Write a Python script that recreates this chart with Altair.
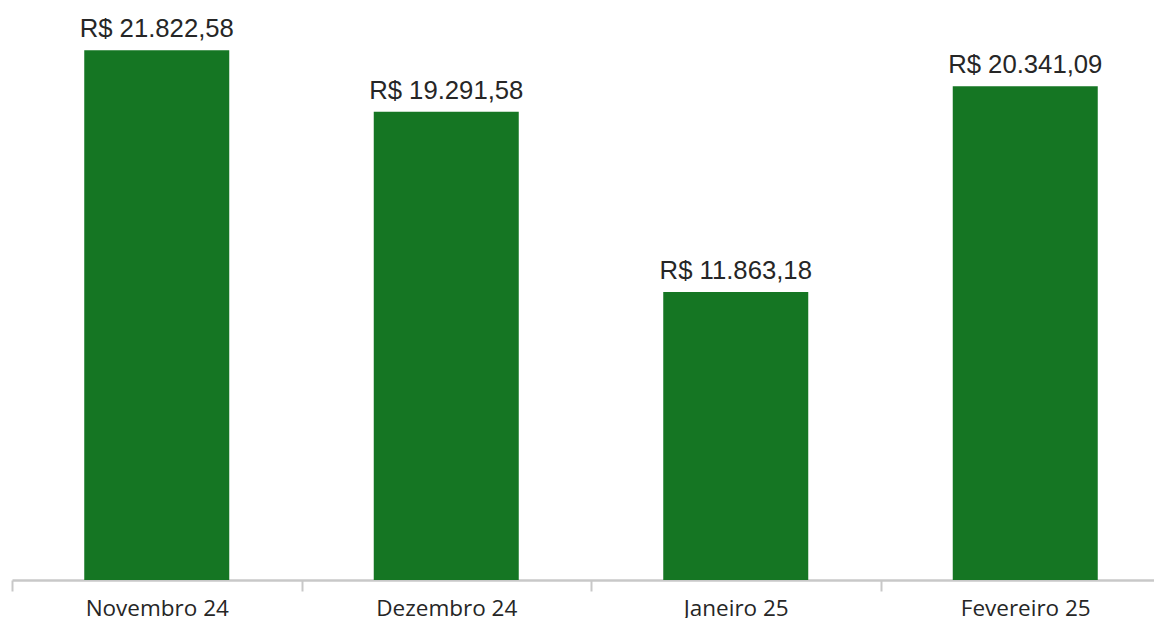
import json
import altair as alt
import pandas as pd

months = ["Novembro 24", "Dezembro 24", "Janeiro 25", "Fevereiro 25"]
values = [21822.58, 19291.58, 11863.18, 20341.09]


def brl(v):
    s = f"{v:,.2f}".replace(",", "X").replace(".", ",").replace("X", ".")
    return "R$ " + s


df = pd.DataFrame({
    "idx": list(range(len(months))),
    "mes": months,
    "valor": values,
    "rotulo": [brl(v) for v in values],
})

W = 1142
STEP = 289.5
label_expr = json.dumps(months) + "[datum.value]"

x = alt.X(
    "idx:Q",
    title=None,
    scale=alt.Scale(domain=[-0.5, -0.5 + W / STEP], nice=False, zero=False, padding=0),
    axis=alt.Axis(
        values=list(range(len(months))),
        labelExpr=label_expr,
        labelAngle=0,
        labelFlush=False,
        labelOverlap=False,
        tickOffset=-STEP / 2,
        labelOffset=STEP / 2,
        domainColor="#c8c8c8",
        domainWidth=2.5,
        tickColor="#c8c8c8",
        tickWidth=2,
        tickSize=11,
        labelFont="Open Sans",
        labelFontSize=22.5,
        labelColor="#262626",
        labelBaseline="alphabetic",
        labelPadding=24,
        grid=False,
    ),
)
y = alt.Y(
    "valor:Q",
    title=None,
    scale=alt.Scale(domain=[0, 23568], nice=False, zero=True, padding=0),
    axis=None,
)

bars = alt.Chart(df).mark_bar(color="#157623", width=145).encode(x=x, y=y)

text = alt.Chart(df).mark_text(
    font="Liberation Sans",
    fontSize=25.7,
    color="#262626",
    baseline="alphabetic",
    dy=-13,
).encode(x=x, y=y, text="rotulo:N")

chart = (
    (bars + text)
    .properties(
        width=W,
        height=572,
        padding={"left": 4, "top": 0, "right": 0, "bottom": 38},
        autosize=alt.AutoSizeParams(type="none"),
    )
    .configure_view(stroke=None)
)

chart.save("out.html", embed_options={"renderer": "svg", "actions": False})
